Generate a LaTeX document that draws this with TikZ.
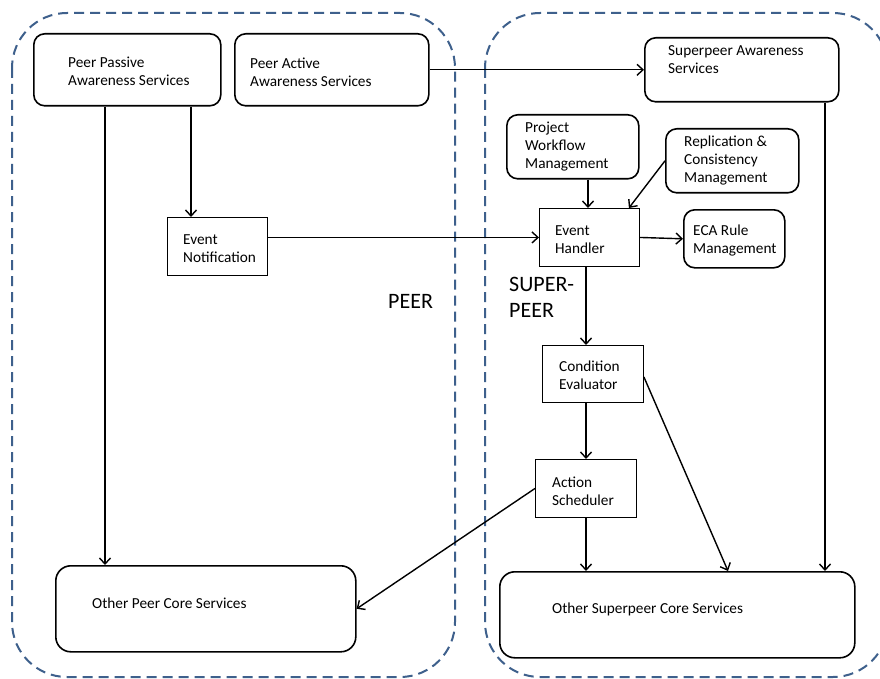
\documentclass[tikz,border=0pt]{standalone}
\usepackage{fontspec}
\setmainfont{Carlito}
\usetikzlibrary{arrows.meta,calc}
\definecolor{dashblue}{RGB}{62,96,140}
\begin{document}
\begin{tikzpicture}[x=1pt,y=-1pt,
  rbox/.style={draw, rounded corners=11pt, line width=1.6pt, inner sep=0pt, anchor=north west},
  sbox/.style={draw, line width=0.9pt, inner sep=0pt, anchor=north west},
  txt/.style={font=\fontsize{15.3}{18}\selectfont, align=left, inner sep=0pt, anchor=west},
  big/.style={font=\fontsize{22}{26}\selectfont, align=left, inner sep=0pt},
  arr/.style={-{Straight Barb[length=6pt,width=11pt]}, line width=1.4pt},
  region/.style={draw=dashblue, line width=2pt, dash pattern=on 10pt off 6pt, rounded corners=55pt}]
\useasboundingbox (0,0) rectangle (880,679);
\fill[white] (0,0) rectangle (880,679);
% regions
\draw[region] (12,13) rectangle (455,677);
\begin{scope}
\clip (0,0) rectangle (880,679);
\draw[region] (485,13) rectangle (888,677);
\end{scope}
% boxes
\node[rbox, minimum width=187pt, minimum height=72pt] (pp) at (33,33) {};
\node[rbox, minimum width=194pt, minimum height=72pt] (pa) at (234,33) {};
\node[rbox, minimum width=194pt, minimum height=64pt] (sa) at (644,37) {};
\node[rbox, minimum width=132pt, minimum height=64pt] (pw) at (506,114) {};
\node[rbox, minimum width=133pt, minimum height=64pt] (rc) at (665,128) {};
\node[sbox, minimum width=100pt, minimum height=58pt] (eh) at (539,208) {};
\node[rbox, minimum width=101pt, minimum height=58pt] (eca) at (683,209) {};
\node[sbox, minimum width=100pt, minimum height=58pt] (en) at (167,217) {};
\node[sbox, minimum width=101pt, minimum height=57pt] (ce) at (542,345) {};
\node[sbox, minimum width=101pt, minimum height=58pt] (as) at (535,459) {};
\node[rbox, rounded corners=15pt, minimum width=300pt, minimum height=86pt] (opc) at (55,565) {};
\node[rbox, rounded corners=15pt, minimum width=355pt, minimum height=86pt] (osc) at (499,571) {};
% texts
\node[txt] (tpp) at (68,71) {Peer Passive\\Awareness Services};
\node[txt] (tpa) at (250,72) {Peer Active\\Awareness Services};
\node[txt] (tsa) at (668,60) {Superpeer Awareness\\Services};
\node[txt] (tpw) at (525,147) {Project\\Workflow\\Management};
\node[txt] (trc) at (684,161) {Replication \&\\Consistency\\Management};
\node[txt] (teh) at (555,240) {Event\\Handler};
\node[txt] (teca) at (693,241) {ECA Rule\\Management};
\node[txt] (ten) at (183,249) {Event\\Notification};
\node[txt] (tce) at (559,375) {Condition\\Evaluator};
\node[txt] (tas) at (552,491) {Action\\Scheduler};
\node[txt, anchor=base west] (topc) at (92,608) {Other Peer Core Services};
\node[txt, anchor=base west] (tosc) at (552,613) {Other Superpeer Core Services};
\node[big, anchor=base west] (lpeer) at (388,308) {PEER};
\node[big, anchor=west] (lsp) at (509,297) {SUPER-\\PEER};
% connectors
\draw[arr] ([xshift=72pt]pp.south west) -- ([xshift=50pt]opc.north west);
\draw[arr] ([xshift=158pt]pp.south west) -- ([xshift=24pt]en.north west);
\draw[arr] (pa.east) -- (pa.east -| sa.west);
\draw[arr] ([xshift=181pt]sa.south west) -- ([xshift=326pt]osc.north west);
\draw[arr] (en.east |- eh.west) -- (eh.west);
\draw[arr] ([xshift=82pt]pw.south west) -- ([xshift=49pt]eh.north west);
\draw[arr] (rc.west) -- ([xshift=-11pt]eh.north east);
\draw[arr] (eh.east) -- (eca.west);
\draw[arr] ([xshift=47pt]eh.south west) -- ([xshift=44pt]ce.north west);
\draw[arr] ([xshift=44pt]ce.south west) -- ([xshift=51pt]as.north west);
\draw[arr] ([yshift=-3pt]ce.east) -- ([xshift=229pt]osc.north west);
\draw[arr] ([xshift=51pt]as.south west) -- ([xshift=87pt]osc.north west);
\draw[arr] (as.west) -- (opc.east);
\end{tikzpicture}
\end{document}
